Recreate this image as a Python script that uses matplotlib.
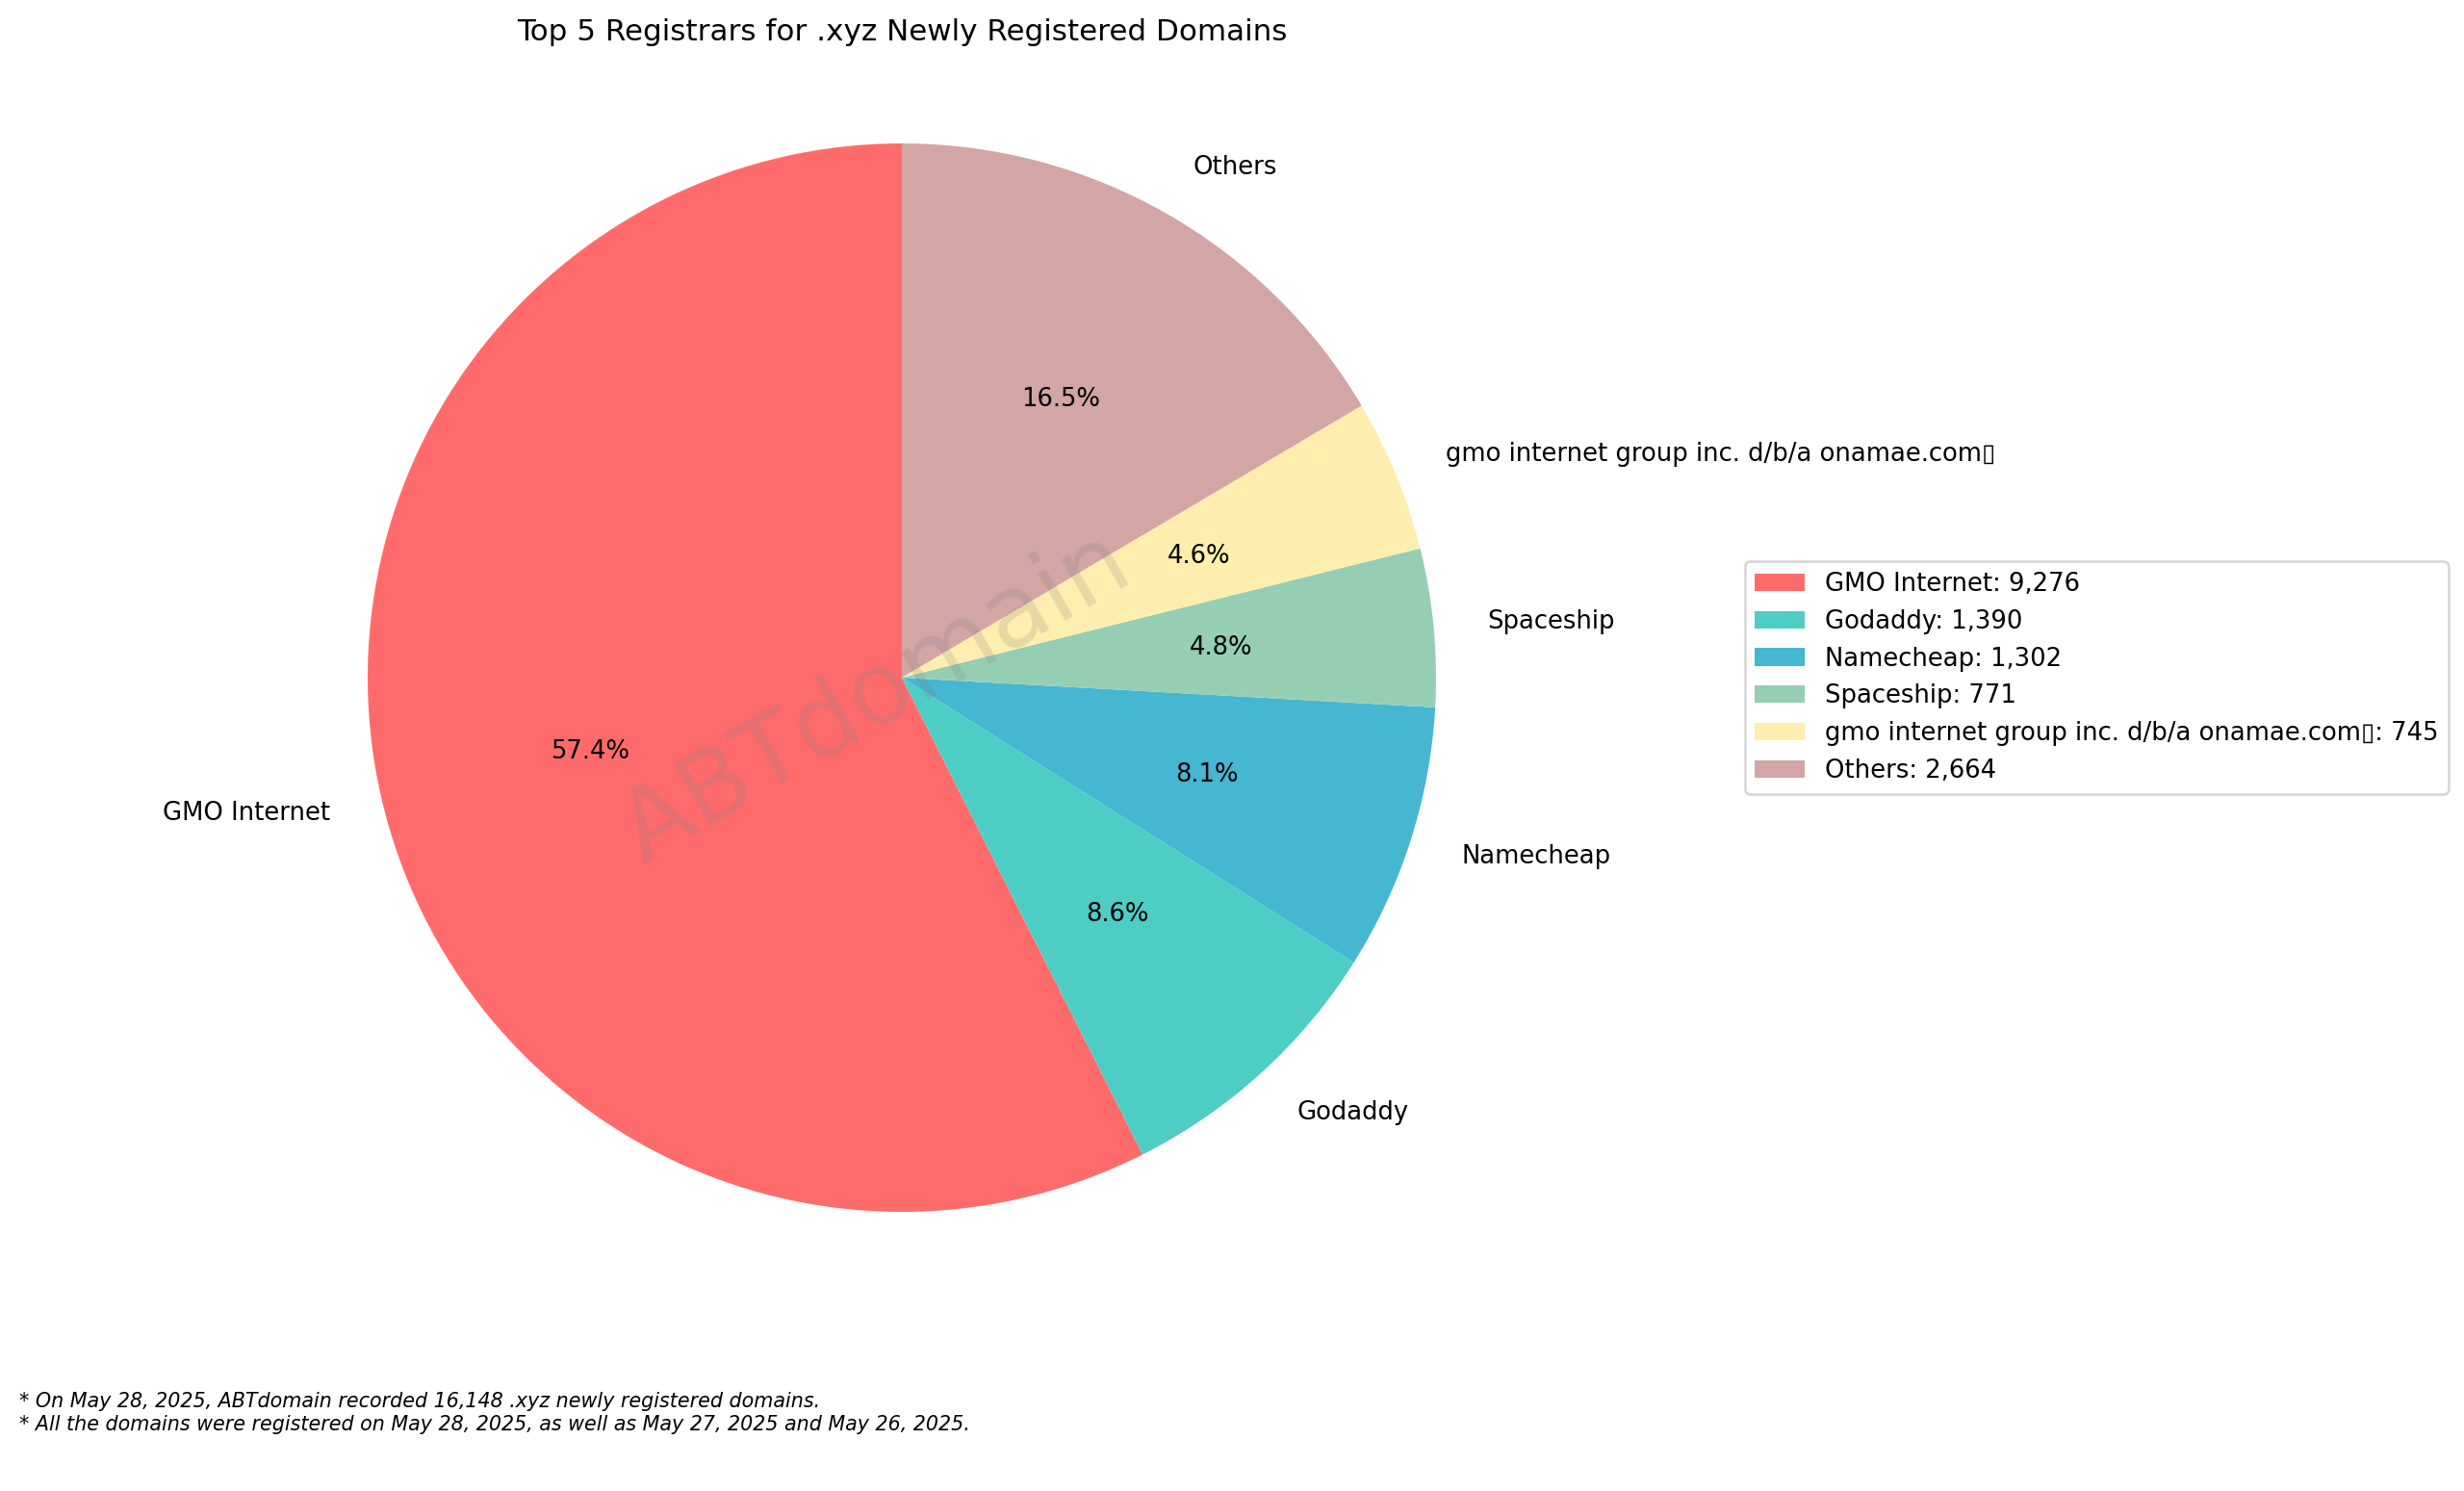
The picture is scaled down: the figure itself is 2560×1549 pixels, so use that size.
import matplotlib
matplotlib.use("Agg")
import matplotlib.pyplot as plt

registrars = ["GMO Internet", "Godaddy", "Namecheap", "Spaceship",
              "gmo internet group inc. d/b/a onamae.com\u25af", "Others"]
counts = [9276, 1390, 1302, 771, 745, 2664]
colors = ["#FF6B6B", "#4ECDC4", "#45B7D1", "#96CEB4", "#FFEEAD", "#D4A5A5"]
title = "Top 5 Registrars for .xyz Newly Registered Domains"
footnote = ("* On May 28, 2025, ABTdomain recorded 16,148 .xyz newly registered domains.\n"
            "* All the domains were registered on May 28, 2025, as well as May 27, 2025 and May 26, 2025.")

W, H = 2560, 1549
DPI = 186
fig = plt.figure(figsize=(W / DPI, H / DPI), dpi=DPI)
cx, cy, r = 937, 704, 555
half = 1.25 * r
ax = fig.add_axes([(cx - half) / W, (H - cy - half) / H, 2 * half / W, 2 * half / H])
wedges, texts, autotexts = ax.pie(counts, labels=registrars, colors=colors,
                                  autopct="%1.1f%%", startangle=90)
ax.set_aspect("equal")
fig.text((cx - 28) / W, 1 - (cy + 21) / H, "ABTdomain", fontsize=40, color="gray",
         alpha=0.2, rotation=30, ha="center", va="center")
fig.text(cx / W, 1 - 33 / H, title, ha="center", va="center", fontsize=12)
legend_labels = [f"{n}: {c:,}" for n, c in zip(registrars, counts)]
fig.legend(wedges, legend_labels, loc="center left", fontsize=10,
           bbox_to_anchor=(1813 / W, 1 - 704 / H), borderaxespad=0)
fig.text(20 / W, 1 - 1468 / H, footnote, ha="left", va="center", fontsize=8, style="italic")
fig.savefig("out.png", dpi=DPI)
